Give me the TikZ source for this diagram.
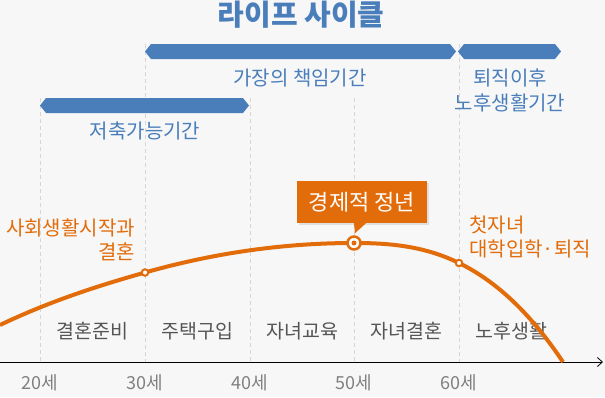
\documentclass[tikz,border=0pt]{standalone}
\usepackage{fontspec}
\setmainfont{Noto Sans CJK KR}
\usetikzlibrary{arrows.meta,shadows}
\definecolor{lifeblue}{RGB}{74,126,187}
\definecolor{lifeorange}{RGB}{227,108,10}
\definecolor{bgcol}{RGB}{247,247,247}
\definecolor{gridcol}{RGB}{214,214,214}
\definecolor{stagegray}{RGB}{85,85,85}
\definecolor{agegray}{RGB}{128,128,128}
\begin{document}
\begin{tikzpicture}[x=1pt, y=-1pt, inner sep=0pt,
  bartext/.style={text=lifeblue, font=\fontsize{20}{25}\selectfont, align=center},
  eventtext/.style={text=lifeorange, font=\fontsize{20}{23.5}\selectfont},
  stagetext/.style={text=stagegray, font=\fontsize{19.5}{22}\selectfont},
  agetext/.style={text=agegray, font=\fontsize{18}{20}\selectfont},
  gridline/.style={gridcol, line width=0.8pt, dash pattern=on 4pt off 3pt},
  ring/.style={circle, fill=white, draw=lifeorange, line width=2pt, minimum size=6.5pt},
  peakring/.style={circle, fill=white, draw=lifeorange, line width=2.5pt, minimum size=13pt},
  calloutbox/.style={fill=lifeorange, text=white, font=\fontsize{22}{24}\selectfont,
    minimum width=130pt, minimum height=42pt,
    drop shadow={shadow xshift=2pt, shadow yshift=-2pt, opacity=0.2}}]
  % background
  \fill[bgcol] (0,0) rectangle (605,397);
  \useasboundingbox (0,0) rectangle (605,397);
  % title
  \node[text=lifeblue, font=\fontsize{29}{32}\selectfont\bfseries] (title) at (301,15) {라이프 사이클};
  % grid
  \foreach \x/\top in {40/98, 145/44, 250/98, 354/98, 459/44}
    \draw[gridline] (\x,\top) -- (\x,362);
  % bars: left tip / right tip / middle
  \foreach \a/\b/\m in {145/456/51.5, 458/561/51.5, 40/249/105.5}
    \fill[lifeblue] (\a,\m) -- (\a+6,\m-7.5) -- (\b-6,\m-7.5) -- (\b,\m)
      -- (\b-6,\m+7.5) -- (\a+6,\m+7.5) -- cycle;
  \node[bartext] (duty) at (300,78) {가장의 책임기간};
  \node[bartext] (afterwork) at (510,90.5) {퇴직이후\\노후생활기간};
  \node[bartext] (saving) at (145,131) {저축가능기간};
  % stages and ages
  \foreach \x/\stage/\age [count=\i] in {40/결혼준비/20, 145/주택구입/30,
      250/자녀교육/40, 354/자녀결혼/50, 459/노후생활/60} {
    \node[stagetext] (stage\i) at (\x+52.5,331) {\stage};
    \node[agetext] (age\i) at (\x,382.5) {\age{}세};
  }
  % axis
  \coordinate (origin) at (0,362);
  \coordinate (axisend) at (603,362);
  \draw[line width=0.8pt, -{Straight Barb[length=5pt,width=9pt]}] (origin) -- (axisend);
  % curve
  \coordinate (start) at (0,325);
  \coordinate (p30) at (145,272.5);
  \coordinate (p50) at (354,243);
  \coordinate (p60) at (459,263);
  \coordinate (end) at (563,362);
  \draw[lifeorange, line width=4pt] (start) .. controls (48.3,301.9) and (96.7,286.1) .. (p30)
    .. controls (214.7,252.8) and (284.3,243) .. (p50)
    .. controls (389,243) and (424,245.8) .. (p60)
    .. controls (493.7,280) and (528.3,310) .. (end);
  \node[ring] (m30) at (p30) {};
  \node[ring] (m60) at (p60) {};
  \node[peakring] (peak) at (p50) {};
  \fill[lifeorange] (peak.center) circle (2.5);
  % events
  \node[eventtext, align=right, anchor=east] (firstjob) at (135,240) {사회생활시작과\\결혼};
  \node[eventtext, align=left, anchor=west] (retire) at (469,237) {첫자녀\\대학입학·퇴직};
  \node[calloutbox] (econ) at (362,202) {경제적 정년};
  \fill[lifeorange] ([xshift=-8pt]econ.south) -- ([xshift=4pt]econ.south)
    -- ([xshift=-7pt,yshift=-10pt]econ.south) -- cycle;
\end{tikzpicture}
\end{document}
